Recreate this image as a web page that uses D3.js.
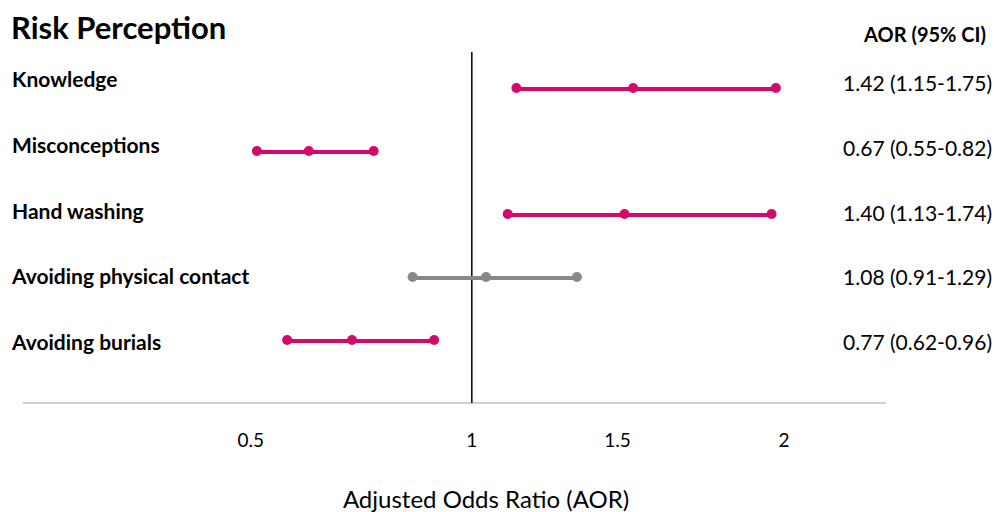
<!DOCTYPE html>
<html>
<head>
<meta charset="utf-8">
<script src="https://cdn.jsdelivr.net/npm/d3@7"></script>
<style>
  body { margin: 0; background: #fff; }
  text { font-family: Lato, "Open Sans", sans-serif; fill: #000; }
</style>
</head>
<body>
<div id="chart"></div>
<script>
// rows of the forest plot
var categories = ["Knowledge", "Misconceptions", "Hand washing", "Avoiding physical contact", "Avoiding burials"];
var aor   = [1.42, 0.67, 1.40, 1.08, 0.77];
var lower = [1.15, 0.55, 1.13, 0.91, 0.62];
var upper = [1.75, 0.82, 1.74, 1.29, 0.96];
var significant = [true, true, true, false, true];

// axis labels, and where they sit on the plotting scale
var tickLabels = ["0.5", "1", "1.5", "2"];
var tickAt = [0.536, 1.047, 1.384, 1.769];

var width = 994, height = 512;

var svg = d3.select("#chart")
  .append("svg")
    .attr("width", width)
    .attr("height", height);

// x scale for the estimates
var x = d3.scaleLinear()
    .domain([0, 2])
    .range([19, 884]);

// y positions for the lines, the left labels and the right-hand values
var yLine = d3.scalePoint().domain(categories).range([88, 340]);
var yLabel = d3.scalePoint().domain(categories).range([87, 350]);
var yValue = d3.scalePoint().domain(categories).range([91, 350]);

var pink = "#d40a6a", grey = "#888888";

// title + column header
svg.append("text")
  .attr("x", 11).attr("y", 39)
  .style("font-size", "31px").style("font-weight", "bold")
  .text("Risk Perception");

svg.append("text")
  .attr("x", 986).attr("y", 42)
  .attr("text-anchor", "end")
  .style("font-size", "20px").style("font-weight", "bold")
  .text("AOR (95% CI)");

// bottom axis line
svg.append("line")
  .attr("x1", 23).attr("x2", 886)
  .attr("y1", 403).attr("y2", 403)
  .attr("stroke", "#d0d0d0").attr("stroke-width", 2);

// reference line at 1
svg.append("line")
  .attr("x1", x(tickAt[1])).attr("x2", x(tickAt[1]))
  .attr("y1", 52).attr("y2", 403)
  .attr("stroke", "#000").attr("stroke-width", 1.5);

// tick labels
svg.selectAll(".tick-label")
  .data(tickLabels)
  .enter().append("text")
    .attr("class", "tick-label")
    .attr("x", function(d, i) { return x(tickAt[i]); })
    .attr("y", 447)
    .attr("text-anchor", "middle")
    .style("font-size", "19px")
    .text(function(d) { return d; });

svg.append("text")
  .attr("x", 486).attr("y", 508)
  .attr("text-anchor", "middle")
  .style("font-size", "24px")
  .text("Adjusted Odds Ratio (AOR)");

// rows
var rows = categories.map(function(c, i) {
  return { name: c, aor: aor[i], lo: lower[i], hi: upper[i], sig: significant[i] };
});

svg.selectAll(".ci")
  .data(rows)
  .enter().append("line")
    .attr("class", "ci")
    .attr("x1", function(d) { return x(d.lo); })
    .attr("x2", function(d) { return x(d.hi); })
    .attr("y1", function(d) { return yLine(d.name) + 1; })
    .attr("y2", function(d) { return yLine(d.name) + 1; })
    .attr("stroke", function(d) { return d.sig ? pink : grey; })
    .attr("stroke-width", 4);

// the three dots per row
rows.forEach(function(d) {
  svg.selectAll(null)
    .data([d.lo, d.aor, d.hi])
    .enter().append("circle")
      .attr("cx", function(v) { return x(v); })
      .attr("cy", yLine(d.name))
      .attr("r", 5)
      .attr("fill", d.sig ? pink : grey);
});

// category labels on the left
svg.selectAll(".cat")
  .data(rows)
  .enter().append("text")
    .attr("class", "cat")
    .attr("x", 12)
    .attr("y", function(d) { return yLabel(d.name); })
    .style("font-size", "21px").style("font-weight", "bold")
    .text(function(d) { return d.name; });

// AOR (CI) text on the right
svg.selectAll(".val")
  .data(rows)
  .enter().append("text")
    .attr("class", "val")
    .attr("x", 992)
    .attr("y", function(d) { return yValue(d.name); })
    .attr("text-anchor", "end")
    .style("font-size", "21px")
    .text(function(d) {
      return d.aor.toFixed(2) + " (" + d.lo.toFixed(2) + "-" + d.hi.toFixed(2) + ")";
    });
</script>
</body>
</html>
